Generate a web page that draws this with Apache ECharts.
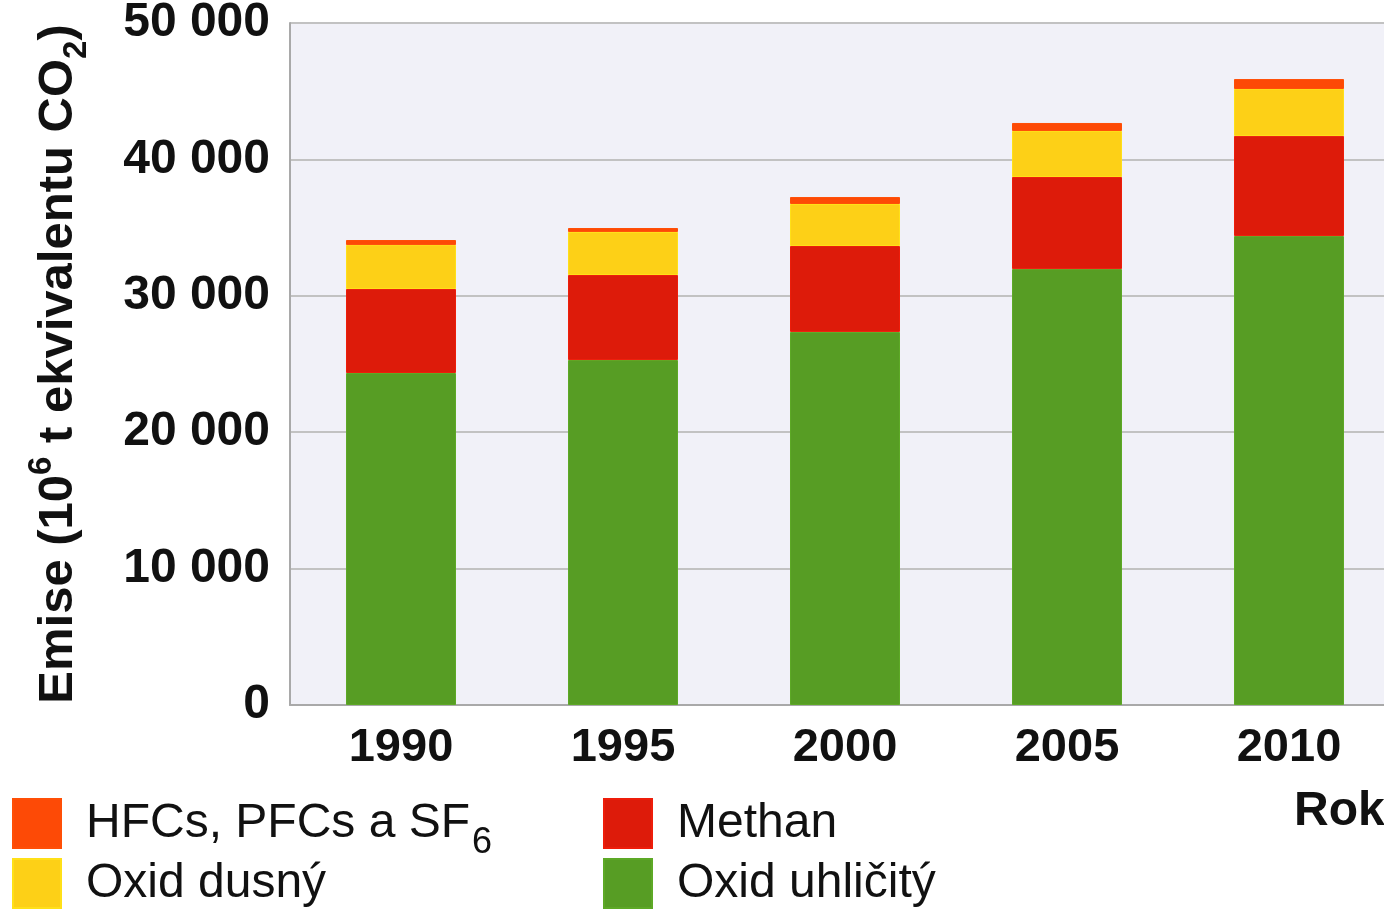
<!DOCTYPE html>
<html><head><meta charset="utf-8">
<script src="https://cdn.jsdelivr.net/npm/echarts@6/dist/echarts.min.js"></script>
<style>html,body{margin:0;padding:0;background:#fff;}#c{width:1384px;height:912px;}</style>
</head><body><div id="c"></div>
<script>
const years = ['1990', '1995', '2000', '2005', '2010'];
const co2 = [24340, 25290, 27350, 31960, 34380];
const methan = [6160, 6235, 6300, 6750, 7340];
const n2o = [3220, 3155, 3080, 3370, 3440];
const fgases = [370, 290, 510, 590, 730];
const yTicks = [0, 10000, 20000, 30000, 40000, 50000];

const FONT = '"Liberation Sans", Arial, sans-serif';
const colors = { hfc: '#fd4a06', ch4: '#dd1b0a', n2o: '#fdd017', co2: '#579d24' };
const names = { hfc: 'HFCs, PFCs a SF6', ch4: 'Methan', n2o: 'Oxid dusný', co2: 'Oxid uhličitý' };

const chart = echarts.init(document.getElementById('c'), null, { renderer: 'canvas' });
const legendRich = {
  t: { fontSize: 48, fontFamily: FONT, color: '#111', lineHeight: 48, padding: [0, 0, 0, 20] },
  s: { fontSize: 36, fontFamily: FONT, color: '#111', lineHeight: 48, verticalAlign: 'bottom', padding: [0, 0, -14, 2] }
};
function legendFmt(n) {
  if (n === names.hfc) return '{t|HFCs, PFCs a SF}{s|6}';
  return '{t|' + n + '}';
}
function bar(key, data) {
  return {
    name: names[key], type: 'bar', stack: 'total', data: data, barWidth: 110,
    itemStyle: { color: colors[key], borderColor: echarts.color.lift(colors[key], -0.08), borderWidth: 1 },
    emphasis: { disabled: true }
  };
}
function legendAt(name, left, top) {
  return {
    data: [name], left: left, top: top, padding: 0,
    itemWidth: 48, itemHeight: 49, icon: 'rect', selectedMode: false,
    formatter: legendFmt, textStyle: { rich: legendRich }
  };
}
chart.setOption({
  animation: false,
  backgroundColor: '#ffffff',
  title: {
    text: 'Rok', left: 1294, top: 788, padding: 0,
    textStyle: { fontFamily: FONT, fontSize: 48, fontWeight: 'bold', color: '#111' }
  },
  grid: {
    left: 290, top: 23, width: 1110, bottom: 207, show: true,
    outerBoundsMode: 'none',
    backgroundColor: '#f1f1f8', borderWidth: 0, containLabel: false
  },
  legend: [
    legendAt(names.hfc, 12, 798),
    legendAt(names.n2o, 12, 858),
    legendAt(names.ch4, 603, 798),
    legendAt(names.co2, 603, 858)
  ],
  xAxis: {
    type: 'category', data: years,
    axisLine: { show: true, lineStyle: { color: '#a9a9a9', width: 2 } },
    axisTick: { show: false },
    axisLabel: { fontFamily: FONT, fontSize: 47, fontWeight: 'bold', color: '#111', margin: 20 }
  },
  yAxis: {
    type: 'value', min: yTicks[0], max: yTicks[yTicks.length - 1], interval: 10000,
    name: '{m|Emise (10}{sup|6}{m| t ekvivalentu CO}{sub|2}{m|)}',
    nameLocation: 'middle', nameRotate: 90, nameGap: 203,
    nameTextStyle: {
      rich: {
        m: { fontFamily: FONT, fontSize: 49, fontWeight: 'bold', color: '#111', lineHeight: 58 },
        sup: { fontFamily: FONT, fontSize: 33, fontWeight: 'bold', color: '#111', lineHeight: 58, verticalAlign: 'top', padding: [-4, 0, 0, 0] },
        sub: { fontFamily: FONT, fontSize: 33, fontWeight: 'bold', color: '#111', lineHeight: 58, verticalAlign: 'bottom', padding: [0, 0, -6, 0] }
      }
    },
    axisLine: { show: true, lineStyle: { color: '#a9a9a9', width: 2 } },
    axisTick: { show: false },
    splitLine: { show: true, lineStyle: { color: '#c2c2c2', width: 2 } },
    axisLabel: {
      fontFamily: FONT, fontSize: 48, fontWeight: 'bold', color: '#111', margin: 20,
      formatter: v => String(v).replace(/\B(?=(\d{3})+(?!\d))/g, ' ')
    }
  },
  series: [
    bar('co2', co2),
    bar('ch4', methan),
    bar('n2o', n2o),
    bar('hfc', fgases)
  ]
});
</script></body></html>
